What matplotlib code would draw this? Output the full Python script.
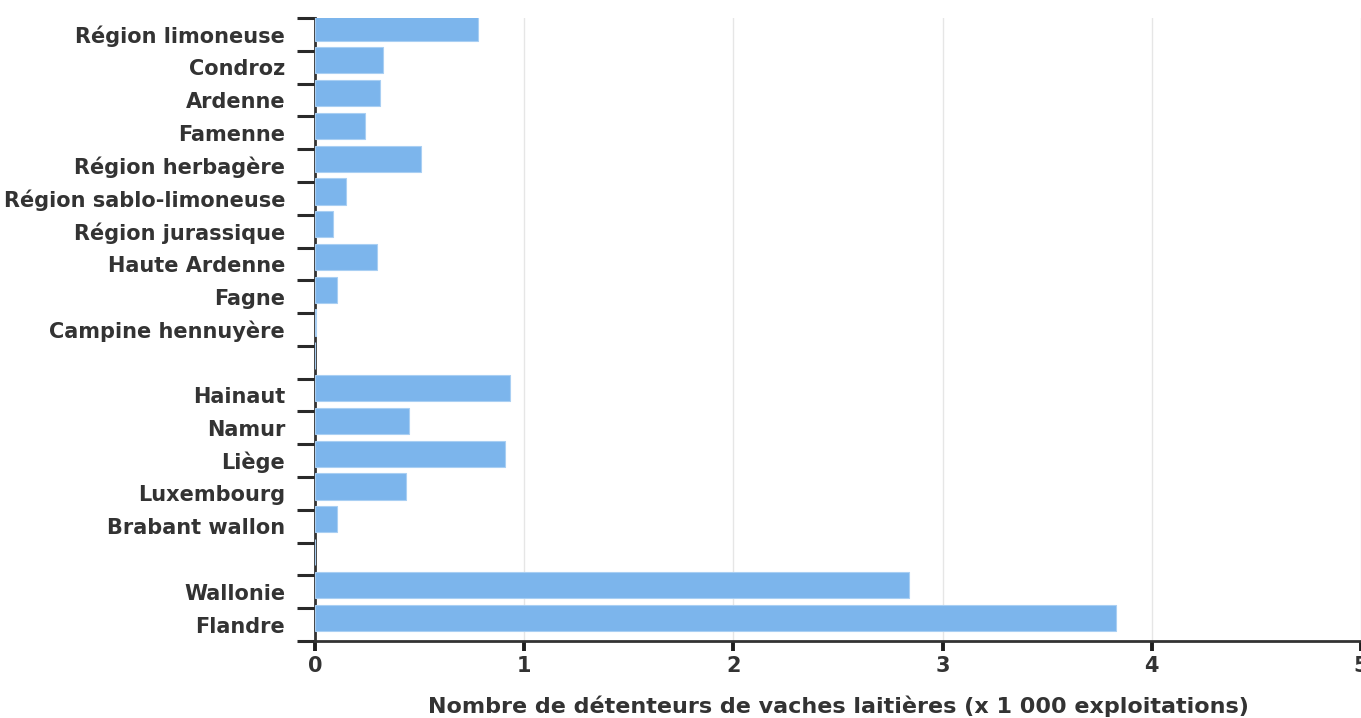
import matplotlib
matplotlib.use("Agg")
import matplotlib.pyplot as plt
import numpy as np

categories = ["Région limoneuse", "Condroz", "Ardenne", "Famenne", "Région herbagère",
              "Région sablo-limoneuse", "Région jurassique", "Haute Ardenne", "Fagne",
              "Campine hennuyère", "", "Hainaut", "Namur", "Liège", "Luxembourg",
              "Brabant wallon", "", "Wallonie", "Flandre"]
values = [0.78, 0.327, 0.313, 0.241, 0.509, 0.15, 0.088, 0.294, 0.103, 0.003,
          np.nan, 0.934, 0.448, 0.906, 0.437, 0.106, np.nan, 2.838, 3.831]
xticks = [0, 1, 2, 3, 4, 5]
xlabel = "Nombre de détenteurs de vaches laitières (x 1 000 exploitations)"

plt.rcParams['font.family'] = ['DejaVu Sans']
fig = plt.figure(figsize=(13.61, 7.18), dpi=100)
ax = fig.add_axes([315/1361, 1-641/718, 1-315/1361, (641-18)/718])

n = len(categories)
ypos = np.arange(n)
vals = np.nan_to_num(np.array(values, dtype=float), nan=0.0)
ax.barh(ypos - 0.21, vals, height=0.8, color='#7cb5ec', edgecolor='#a9cff3', linewidth=0.8, zorder=3)

ax.set_xlim(0, 5)
ax.set_ylim(n - 0.5, -0.5)
ax.set_xticks(xticks)
ax.set_xticklabels([str(t) for t in xticks], fontsize=15, fontweight='bold', color='#333333')
ax.set_yticks(np.arange(-0.5, n, 1.0))
ax.set_yticklabels([])
ax.set_yticks(ypos, minor=True)
ax.set_yticklabels(categories, minor=True, fontsize=15, fontweight='bold', color='#333333')
ax.tick_params(axis='y', which='major', length=13, width=2.2, color='#2a2a2a', direction='out')
ax.tick_params(axis='y', which='minor', length=0, pad=21.5)
ax.tick_params(axis='x', which='major', length=7, width=2.8, color='#1e1e1e', pad=4)

ax.grid(axis='x', color='#e6e6e6', linewidth=1, zorder=0)
ax.set_axisbelow(True)
for s in ['top', 'right']:
    ax.spines[s].set_visible(False)
ax.spines['left'].set_color('#333333')
ax.spines['left'].set_linewidth(2.0)
ax.spines['bottom'].set_color('#333333')
ax.spines['bottom'].set_linewidth(2.0)

ax.set_xlabel(xlabel, fontsize=16, fontweight='bold', color='#333333', labelpad=14)

fig.savefig("out.png", dpi=100)
